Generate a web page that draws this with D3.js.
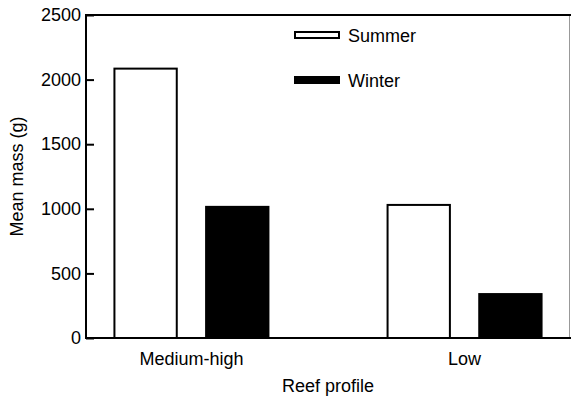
<!DOCTYPE html>
<html>
<head>
<meta charset="utf-8">
<script src="https://cdn.jsdelivr.net/npm/d3@7"></script>
<style>
  body { margin: 0; background: #fff; }
  text { font-family: "Liberation Sans", Arial, sans-serif; fill: #000; }
</style>
</head>
<body>
<script>
var width = 571;
var height = 403;

// data
var profiles = ["Medium-high", "Low"];
var seasons = ["Summer", "Winter"];
var summerMass = [2085, 1030];
var winterMass = [1015, 340];
var yTicks = [0, 500, 1000, 1500, 2000, 2500];

var fills = {Summer: "#fff", Winter: "#000"};

var data = profiles.map(function(p, i) {
  return {profile: p, values: [
    {season: "Summer", mass: summerMass[i]},
    {season: "Winter", mass: winterMass[i]}
  ]};
});

var margin = {left: 86, right: 1, top: 15, bottom: 65};

var svg = d3.select("body").append("svg")
            .attr("width", width)
            .attr("height", height);

var x0 = d3.scalePoint()
           .domain(profiles)
           .range([margin.left, width - margin.right])
           .padding(0.386);

var x1 = d3.scaleBand()
           .domain(seasons)
           .range([-77, 77])
           .paddingInner(0.32);

var y = d3.scaleLinear()
          .domain([0, 2500])
          .range([height - margin.bottom, margin.top]);

// frame: thin right border, thick top
svg.append("line")
   .attr("x1", width - 1.5).attr("x2", width - 1.5)
   .attr("y1", margin.top).attr("y2", y(0))
   .attr("stroke", "#999").attr("stroke-width", 1);
svg.append("line")
   .attr("x1", margin.left).attr("x2", width)
   .attr("y1", margin.top).attr("y2", margin.top)
   .attr("stroke", "#000").attr("stroke-width", 2);

// bars
var groups = svg.selectAll(".grp")
                .data(data)
                .enter().append("g")
                .attr("class", "grp")
                .attr("transform", function(d) { return "translate(" + x0(d.profile) + ",0)"; });

groups.selectAll("rect")
      .data(function(d) { return d.values; })
      .enter().append("rect")
      .attr("x", function(d) { return x1(d.season); })
      .attr("width", x1.bandwidth())
      .attr("y", function(d) { return y(d.mass); })
      .attr("height", function(d) { return y(0) - y(d.mass); })
      .attr("fill", function(d) { return fills[d.season]; })
      .attr("stroke", "#000")
      .attr("stroke-width", 2);

// y axis, ticks pointing inward
var yAxis = d3.axisRight(y).tickValues(yTicks).tickSize(8).tickFormat(d3.format("d"));
var gy = svg.append("g")
            .attr("transform", "translate(" + margin.left + ",0)")
            .call(yAxis);
gy.select(".domain").remove();
gy.selectAll(".tick line").attr("stroke", "#000").attr("stroke-width", 2);
gy.selectAll(".tick text")
  .attr("x", -5)
  .attr("text-anchor", "end")
  .style("font-size", "18px")
  .style("font-family", "Liberation Sans, Arial, sans-serif");
svg.append("line")
   .attr("x1", margin.left).attr("x2", margin.left)
   .attr("y1", margin.top - 1).attr("y2", y(0) + 1)
   .attr("stroke", "#000").attr("stroke-width", 2);

// x axis
svg.append("line")
   .attr("x1", margin.left - 1).attr("x2", width)
   .attr("y1", y(0)).attr("y2", y(0))
   .attr("stroke", "#000").attr("stroke-width", 2);

svg.selectAll(".xlab")
   .data(profiles)
   .enter().append("text")
   .attr("class", "xlab")
   .attr("x", function(d) { return x0(d); })
   .attr("y", 365)
   .attr("text-anchor", "middle")
   .style("font-size", "18px")
   .text(function(d) { return d; });

svg.append("text")
   .attr("x", 328)
   .attr("y", 392)
   .attr("text-anchor", "middle")
   .style("font-size", "18px")
   .text("Reef profile");

svg.append("text")
   .attr("transform", "translate(23," + ((margin.top + y(0)) / 2) + ") rotate(-90)")
   .attr("text-anchor", "middle")
   .style("font-size", "18px")
   .text("Mean mass (g)");

// legend
var legend = svg.selectAll(".legend")
                .data(seasons)
                .enter().append("g")
                .attr("class", "legend")
                .attr("transform", function(d, i) { return "translate(295," + (32 + i * 45) + ")"; });

legend.append("rect")
      .attr("width", 44)
      .attr("height", 6)
      .attr("fill", function(d) { return fills[d]; })
      .attr("stroke", "#000")
      .attr("stroke-width", 2);

legend.append("text")
      .attr("x", 53)
      .attr("y", 10)
      .style("font-size", "18px")
      .text(function(d) { return d; });
</script>
</body>
</html>
